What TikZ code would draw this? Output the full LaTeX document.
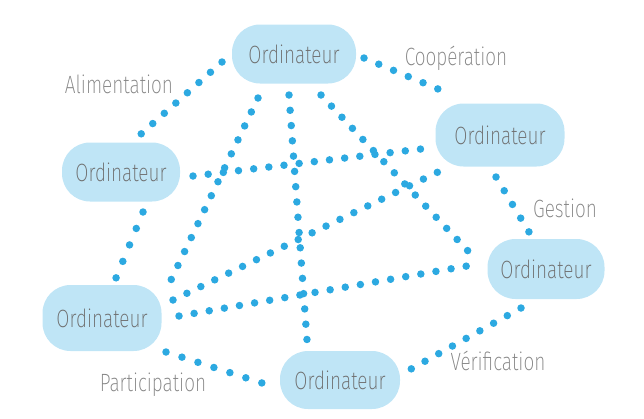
\documentclass[tikz,border=0pt]{standalone}
\usepackage{fontspec}
\setmainfont{Fira Sans ExtraLight}[FakeStretch=0.76]
\usetikzlibrary{calc}
\definecolor{blobblue}{HTML}{BFE5F6}
\definecolor{dotblue}{HTML}{2CA9E1}
\definecolor{txtgray}{HTML}{6E6E6E}
\tikzset{
    ordi/.style={fill=blobblue, rounded corners=28pt, text=txtgray, inner sep=0pt,
        minimum width=120pt, minimum height=60pt, font=\fontsize{25}{28}\selectfont},
    lien/.style={draw=dotblue, line width=7.5pt, line cap=round, dash pattern=on 0pt off #1},
    lien/.default=15.5pt,
    etiq/.style={text=txtgray!85, font=\fontsize{25}{28}\selectfont},
}

\begin{document}
\begin{tikzpicture}[x=1pt, y=-1pt]
    \useasboundingbox (0,0) rectangle (644,418);

    \node[ordi, minimum width=124pt, minimum height=59pt] (ordT) at (294,54){Ordinateur};
    \node[ordi, minimum width=118pt, minimum height=59pt] (ordLU) at (121,172){Ordinateur};
    \node[ordi, minimum width=129pt, minimum height=63pt] (ordRU) at (500,135){Ordinateur};
    \node[ordi, minimum width=117pt, minimum height=60pt] (ordRL) at (546,269){Ordinateur};
    \node[ordi, minimum width=119pt, minimum height=66pt] (ordLL) at (102,318){Ordinateur};
    \node[ordi, minimum width=120pt, minimum height=58pt] (ordB) at (340,380){Ordinateur};

    % outer ring
    \draw[lien=15.44pt] ([shift={(-72,8)}]ordT.center) -- ([shift={(20,-38)}]ordLU.center);
    \draw[lien=16.00pt] ([shift={(70,4)}]ordT.center) -- ([shift={(-62,-46)}]ordRU.center);
    \draw[lien=15.99pt] ([shift={(-4,42)}]ordRU.center) -- ([shift={(-17,-37)}]ordRL.center);
    \draw[lien=15.68pt] ([shift={(-25,39)}]ordRL.center) -- ([shift={(71,-11)}]ordB.center);
    \draw[lien=16.78pt] ([shift={(64,34)}]ordLL.center) -- ([shift={(-78,3)}]ordB.center);
    \draw[lien=17.78pt] ([shift={(22,40)}]ordLU.center) -- ([shift={(14,-40)}]ordLL.center);
    % inner lines
    \draw[lien=15.47pt] ([shift={(-36,44)}]ordT.center) -- ([shift={(69,-38)}]ordLL.center);
    \draw[lien=15.32pt] ([shift={(-5,41)}]ordT.center) -- ([shift={(-33,-40)}]ordB.center);
    \draw[lien=15.27pt] ([shift={(27,41)}]ordT.center) -- ([shift={(-78,-18)}]ordRL.center);
    \draw[lien=15.27pt] ([shift={(72,4)}]ordLU.center) -- ([shift={(-79,14)}]ordRU.center);
    \draw[lien=15.45pt] ([shift={(71,-18)}]ordLL.center) -- ([shift={(-62,37)}]ordRU.center);
    \draw[lien=15.34pt] ([shift={(77,-2)}]ordLL.center) -- ([shift={(-79,-3)}]ordRL.center);

    \node[etiq] (alim) at (119,84){Alimentation};
    \node[etiq] (coop) at (456,58){Coopération};
    \node[etiq] (gest) at (565,208){Gestion};
    \node[etiq] (verif) at (498,361){Vérification};
    \node[etiq] (partic) at (153,385){Participation};
\end{tikzpicture}
\end{document}
